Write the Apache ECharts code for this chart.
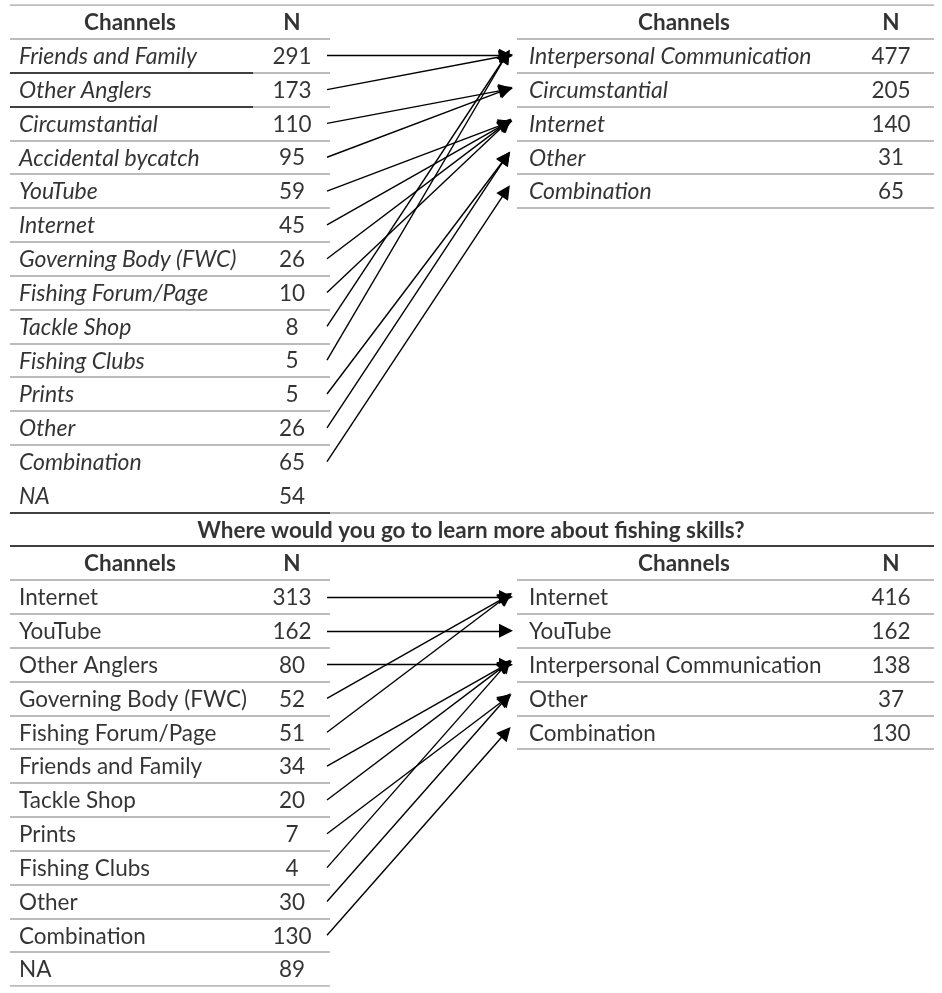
<!DOCTYPE html>
<html>
<head>
<meta charset="utf-8">
<title>Channels</title>
<script src="https://cdn.jsdelivr.net/npm/echarts@6/dist/echarts.min.js"></script>
<style>
  html, body { margin: 0; padding: 0; background: #fff; }
  #main { width: 942px; height: 993px; }
</style>
</head>
<body>
<div id="main"></div>
<script>
// ---- data ----
var headerName = 'Channels';
var headerN = 'N';

// upper block
var topSources = ['Friends and Family', 'Other Anglers', 'Circumstantial', 'Accidental bycatch', 'YouTube',
    'Internet', 'Governing Body (FWC)', 'Fishing Forum/Page', 'Tackle Shop', 'Fishing Clubs', 'Prints',
    'Other', 'Combination', 'NA'];
var topSourceN = [291, 173, 110, 95, 59, 45, 26, 10, 8, 5, 5, 26, 65, 54];
var topTargets = ['Interpersonal Communication', 'Circumstantial', 'Internet', 'Other', 'Combination'];
var topTargetN = [477, 205, 140, 31, 65];
// target index for each source, -1 = no arrow
var topLinks = [0, 0, 1, 1, 2, 2, 2, 2, 0, 0, 3, 3, 4, -1];

// lower block
var bottomTitle = 'Where would you go to learn more about fishing skills?';
var bottomSources = ['Internet', 'YouTube', 'Other Anglers', 'Governing Body (FWC)', 'Fishing Forum/Page',
    'Friends and Family', 'Tackle Shop', 'Prints', 'Fishing Clubs', 'Other', 'Combination', 'NA'];
var bottomSourceN = [313, 162, 80, 52, 51, 34, 20, 7, 4, 30, 130, 89];
var bottomTargets = ['Internet', 'YouTube', 'Interpersonal Communication', 'Other', 'Combination'];
var bottomTargetN = [416, 162, 138, 37, 130];
var bottomLinks = [0, 1, 2, 0, 0, 2, 2, 3, 2, 3, 4, -1];

// ---- layout ----
var FONT = 'Lato';
var GRAY = '#a6a6a6';
var X = {
    leftStart: 10, leftEnd: 330, darkEnd: 253,
    rightStart: 517, rightEnd: 934,
    leftName: 19, leftN: 292, leftHead: 130,
    rightName: 529, rightN: 891, rightHead: 684,
    arrowFrom: 327, arrowTo: 506, mid: 471
};
var topHeadRow = 0;
var titleRow = topHeadRow + topSources.length + 1;
var bottomHeadRow = titleRow + 1;
var lastRow = bottomHeadRow + bottomSources.length;
var darkAfter = [1, 2, 13]; // rows of the upper left table with a dark rule under them

// ---- build marks ----
function textItem(x, row, text) {
    return { name: String(text), value: [x, row] };
}

var names = { italic: [], normal: [] };
var centered = [];
var heads = [];

function addBlock(headRow, sources, sourceN, targets, targetN, links, italic, arrows) {
    var key = italic ? 'italic' : 'normal';
    heads.push(textItem(X.leftHead, headRow, headerName), textItem(X.leftN, headRow, headerN),
        textItem(X.rightHead, headRow, headerName), textItem(X.rightN, headRow, headerN));
    sources.forEach(function (s, i) {
        names[key].push(textItem(X.leftName, headRow + 1 + i, s));
        centered.push(textItem(X.leftN, headRow + 1 + i, sourceN[i]));
        if (links[i] >= 0) {
            arrows.push({ coords: [[X.arrowFrom, headRow + 1 + i], [X.arrowTo, headRow + 1 + links[i]]] });
        }
    });
    targets.forEach(function (t, i) {
        names[key].push(textItem(X.rightName, headRow + 1 + i, t));
        centered.push(textItem(X.rightN, headRow + 1 + i, targetN[i]));
    });
}

var arrows = [];
addBlock(topHeadRow, topSources, topSourceN, topTargets, topTargetN, topLinks, true, arrows);
addBlock(bottomHeadRow, bottomSources, bottomSourceN, bottomTargets, bottomTargetN, bottomLinks, false, arrows);

var rules = [];
function rule(x1, x2, y, color) {
    rules.push({ coords: [[x1, y], [x2, y]], lineStyle: { color: color } });
}
// upper block
rule(X.leftStart, X.rightEnd, topHeadRow - 0.5, GRAY);
for (var r = topHeadRow; r < titleRow - 2; r++) {
    if (darkAfter.indexOf(r) >= 0) {
        rule(X.leftStart, X.darkEnd, r + 0.5, '#000');
        rule(X.darkEnd, X.leftEnd, r + 0.5, GRAY);
    } else {
        rule(X.leftStart, X.leftEnd, r + 0.5, GRAY);
    }
}
rule(X.leftStart, X.leftEnd, titleRow - 0.5, '#000');
rule(X.leftEnd, X.rightEnd, titleRow - 0.5, GRAY);
for (var r = topHeadRow; r <= topHeadRow + topTargets.length; r++) {
    rule(X.rightStart, X.rightEnd, r + 0.5, GRAY);
}
// title
rule(X.leftStart, X.rightEnd, titleRow + 0.5, '#000');
// lower block
for (var r = bottomHeadRow; r <= lastRow; r++) {
    rule(X.leftStart, X.leftEnd, r + 0.5, GRAY);
}
for (var r = bottomHeadRow; r <= bottomHeadRow + bottomTargets.length; r++) {
    rule(X.rightStart, X.rightEnd, r + 0.5, GRAY);
}

function textSeries(data, align, style, weight, size) {
    return {
        type: 'scatter',
        data: data,
        symbolSize: 1,
        silent: true,
        itemStyle: { color: 'rgba(0,0,0,0)' },
        label: {
            show: true,
            position: 'inside',
            offset: [0, 1],
            formatter: '{b}',
            align: align,
            verticalAlign: 'middle',
            color: '#000',
            fontFamily: FONT,
            fontSize: size,
            fontStyle: style,
            fontWeight: weight
        }
    };
}

var chart = echarts.init(document.getElementById('main'));
var option = {
    animation: false,
    backgroundColor: '#fff',
    grid: { left: 0, right: 0, top: 5, bottom: 7 },
    xAxis: { type: 'value', min: 0, max: 942, show: false },
    yAxis: { type: 'value', min: topHeadRow - 0.5, max: lastRow + 0.5, inverse: true, show: false },
    series: [
        {
            type: 'lines',
            coordinateSystem: 'cartesian2d',
            silent: true,
            data: rules,
            symbol: 'none',
            lineStyle: { width: 1.5, opacity: 1 }
        },
        {
            type: 'lines',
            coordinateSystem: 'cartesian2d',
            silent: true,
            data: arrows,
            symbol: ['none', 'triangle'],
            symbolSize: 14,
            lineStyle: { color: '#000', width: 1.4, opacity: 1 }
        },
        textSeries(names.italic, 'left', 'italic', 'normal', 23),
        textSeries(names.normal, 'left', 'normal', 'normal', 22.5),
        textSeries(centered, 'center', 'normal', 'normal', 22.5),
        textSeries(heads, 'center', 'normal', 'bold', 22.5),
        textSeries([textItem(X.mid, titleRow, bottomTitle)], 'center', 'normal', 'bold', 22.5)
    ]
};
chart.setOption(option);

window.addEventListener('resize', function () {
    chart.resize();
});
</script>
</body>
</html>
